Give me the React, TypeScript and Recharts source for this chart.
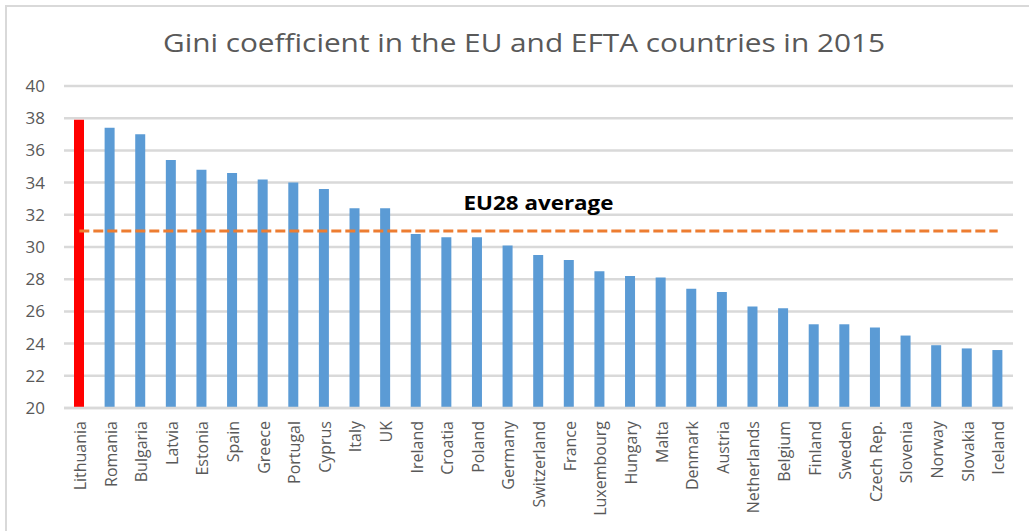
import React from 'react';
import {
  ComposedChart,
  Bar,
  Line,
  Cell,
  XAxis,
  YAxis,
  CartesianGrid,
  ReferenceLine,
} from 'recharts';

const TITLE = 'Gini coefficient in the EU and EFTA countries in 2015';
const AVERAGE_LABEL = 'EU28 average';

const countries = [
  'Lithuania', 'Romania', 'Bulgaria', 'Latvia', 'Estonia', 'Spain', 'Greece',
  'Portugal', 'Cyprus', 'Italy', 'UK', 'Ireland', 'Croatia', 'Poland',
  'Germany', 'Switzerland', 'France', 'Luxembourg', 'Hungary', 'Malta',
  'Denmark', 'Austria', 'Netherlands', 'Belgium', 'Finland', 'Sweden',
  'Czech Rep.', 'Slovenia', 'Norway', 'Slovakia', 'Iceland',
];

const gini = [
  37.9, 37.4, 37.0, 35.4, 34.8, 34.6, 34.2,
  34.0, 33.6, 32.4, 32.4, 30.8, 30.6, 30.6,
  30.1, 29.5, 29.2, 28.5, 28.2, 28.1,
  27.4, 27.2, 26.3, 26.2, 25.2, 25.2,
  25.0, 24.5, 23.9, 23.7, 23.6,
];

const highlighted = ['Lithuania'];
const eu28Average = 31.0;
const yTicks = [20, 22, 24, 26, 28, 30, 32, 34, 36, 38, 40];

const data = countries.map((c, i) => ({ country: c, gini: gini[i], avg: eu28Average }));

const FONT = '"Open Sans", "Noto Sans", sans-serif';
const GREY_TEXT = '#595959';
const GRID = '#d9d9d9';

const XTick = (props: any) => {
  const { x, y, payload } = props;
  const px = x + 1;
  return (
    <text
      x={px}
      y={y}
      transform={`rotate(-90 ${px} ${y})`}
      textAnchor="end"
      dy="0.35em"
      fontFamily={FONT}
      fontSize={16}
      fill={GREY_TEXT}
    >
      {payload.value}
    </text>
  );
};

const AvgLabel = (props: any) => {
  const vb = props.viewBox || {};
  const cx = (vb.x || 0) + (vb.width || 0) / 2;
  const cy = (vb.y || 0) - 21;
  return (
    <text
      x={cx}
      y={cy}
      textAnchor="middle"
      fontFamily={FONT}
      fontWeight={700}
      fontSize={19}
      fill="#000000"
      textLength={150}
      lengthAdjust="spacingAndGlyphs"
    >
      {AVERAGE_LABEL}
    </text>
  );
};

export default function App() {
  return (
    <div
      style={{
        position: 'fixed',
        left: 0,
        top: 0,
        width: 1029,
        height: 531,
        overflow: 'hidden',
        background: '#ffffff',
      }}
    >
      <div
        style={{
          position: 'absolute',
          left: 5,
          top: 5,
          width: 1100,
          height: 600,
          border: `2px solid ${GRID}`,
          boxSizing: 'border-box',
        }}
      />
      <svg
        width={1029}
        height={70}
        style={{ position: 'absolute', left: 0, top: 0 }}
      >
        <text
          x={524}
          y={52}
          textAnchor="middle"
          fontFamily={FONT}
          fontSize={26}
          fill={GREY_TEXT}
          textLength={722}
          lengthAdjust="spacingAndGlyphs"
        >
          {TITLE}
        </text>
      </svg>
      <div style={{ position: 'absolute', left: 0, top: 0 }}>
        <ComposedChart
          width={1029}
          height={531}
          data={data}
          margin={{ top: 86, right: 16, left: 0, bottom: 0 }}
        >
          <CartesianGrid vertical={false} stroke={GRID} strokeWidth={2.5} />
          <XAxis
            dataKey="country"
            interval={0}
            height={123}
            axisLine={{ stroke: GRID, strokeWidth: 2.5 }}
            tickLine={false}
            tickSize={0}
            tickMargin={13}
            tick={<XTick />}
          />
          <YAxis
            domain={[20, 40]}
            ticks={yTicks}
            width={64}
            axisLine={false}
            tickLine={false}
            tickSize={0}
            tickMargin={19}
            allowDataOverflow
            tick={{ fontFamily: FONT, fontSize: 17, fill: GREY_TEXT }}
          />
          <Bar dataKey="gini" barSize={10} isAnimationActive={false}>
            {data.map((d) => (
              <Cell
                key={d.country}
                fill={highlighted.includes(d.country) ? '#FF0000' : '#5B9BD5'}
              />
            ))}
          </Bar>
          <Line
            dataKey="avg"
            stroke="#ED7D31"
            strokeWidth={3}
            strokeDasharray="10 4"
            dot={false}
            activeDot={false}
            isAnimationActive={false}
          />
          <ReferenceLine
            y={eu28Average}
            stroke="none"
            strokeOpacity={0}
            label={<AvgLabel />}
          />
        </ComposedChart>
      </div>
    </div>
  );
}
